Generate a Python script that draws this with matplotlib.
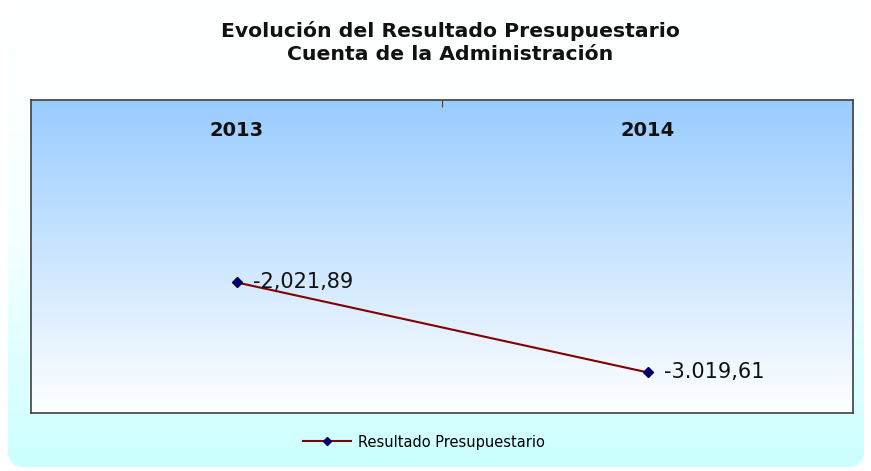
import matplotlib.pyplot as plt
import numpy as np
from matplotlib.patches import FancyBboxPatch
from matplotlib.colors import LinearSegmentedColormap

plt.rcParams['font.family'] = ['DejaVu Sans']

years = ["2013", "2014"]
resultado = [-2021.89, -3019.61]
value_labels = ["-2,021,89", "-3.019,61"]
series_name = "Resultado Presupuestario"

W, H = 871, 471
fig = plt.figure(figsize=(W / 100, H / 100), dpi=100)
fig.patch.set_facecolor("white")

# outer rounded panel with a white -> cyan gradient
bg = fig.add_axes([0, 0, 1, 1])
bg.set_xlim(0, W)
bg.set_ylim(0, H)
bg.axis("off")
panel_cmap = LinearSegmentedColormap.from_list("panel", ["#ccffff", "#f6ffff", "#ffffff"])
grad = np.linspace(0, 1, 256).reshape(-1, 1)
img = bg.imshow(grad, cmap=panel_cmap, extent=(8, 864, 4, 470), origin="lower",
                aspect="auto", zorder=0)
panel = FancyBboxPatch((8, 4), 856, 470, boxstyle="round,pad=0,rounding_size=16",
                       facecolor="none", edgecolor="none", transform=bg.transData)
bg.add_patch(panel)
img.set_clip_path(panel)

# plot area
ax = fig.add_axes([31 / W, 1 - 413 / H, (853 - 31) / W, (413 - 100) / H])
plot_cmap = LinearSegmentedColormap.from_list("plot", ["#ffffff", "#99ccff"])
ax.imshow(grad, cmap=plot_cmap, extent=(0, 1, 0, 1), origin="lower",
          aspect="auto", transform=ax.transAxes, zorder=0)

x = np.arange(len(years))
ax.plot(x, resultado, color="#800000", lw=1.5, marker="D", markersize=5,
        markerfacecolor="#000066", markeredgecolor="#000066", zorder=3,
        label=series_name)

for xi, yi, lab in zip(x, resultado, value_labels):
    ax.annotate(lab, (xi, yi), xytext=(12, 0), textcoords="offset points",
                ha="left", va="center", fontsize=15, color="#111111", zorder=4)

for xi, yr in zip(x, years):
    ax.text(xi, 0.904, yr, transform=ax.get_xaxis_transform(), ha="center",
            va="center", fontsize=14, fontweight="bold", color="#111111")

ax.set_xlim(-0.5, 1.5)
ax.set_ylim(-3470, 0)
ax.set_xticks([0.5])
ax.set_xticklabels([])
ax.tick_params(axis="x", bottom=False, top=True, direction="in", length=5,
               color="#404040")
ax.set_yticks([])
for sp in ax.spines.values():
    sp.set_color("#404040")
    sp.set_linewidth(1.2)

fig.text(0.517, 1 - 31 / H, "Evolución del Resultado Presupuestario", ha="center",
         va="center", fontsize=14.7, fontweight="bold", color="#111111")
fig.text(0.517, 1 - 55 / H, "Cuenta de la Administración", ha="center",
         va="center", fontsize=14.7, fontweight="bold", color="#111111")

fig.legend(loc="center", bbox_to_anchor=(0.487, 1 - 442 / H), frameon=False,
           handlelength=3.3, handletextpad=0.5, markerscale=0.8,
           prop={"size": 10.5})

fig.savefig("out.png", dpi=100)
